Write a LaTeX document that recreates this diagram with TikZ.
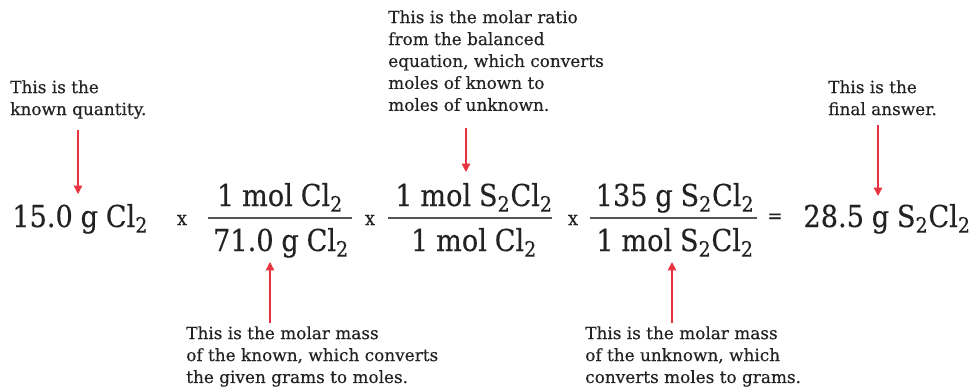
\documentclass[tikz,border=0pt]{standalone}
\usepackage{fontspec}
\setmainfont{DejaVu Serif}
\newfontfamily\eqfont[WordSpace=0.9,FakeBold=0.3]{DejaVu Serif Condensed}
\newfontfamily\notefont[FakeBold=0.4]{DejaVu Serif}
\usetikzlibrary{arrows.meta}
\definecolor{ink}{HTML}{222222}
\definecolor{barc}{HTML}{555555}
\definecolor{arrred}{HTML}{E8323F}
\newcommand\sbt[1]{\textsubscript{#1}}
\begin{document}
\begin{tikzpicture}[x=0.025cm,y=-0.025cm,
  note/.style={align=left, font=\notefont\fontsize{12}{15.6}\selectfont, text=ink, inner sep=0, anchor=north west},
  eq/.style={font=\eqfont\fontsize{21.5}{26}\selectfont, text=ink, inner sep=0},
  times/.style={font=\eqfont\fontsize{14}{15}\selectfont, text=ink, inner sep=0},
  arr/.style={draw=arrred, line width=0.9pt, -{Triangle[length=6pt,width=6pt]}},
  bar/.style={draw=barc, line width=1.3pt}]
\useasboundingbox (0,0) rectangle (974,391);
% equation
\node[eq,anchor=base west] (given) at (12,227) {15.0 g Cl\sbt{2}};
\node[times] (x1) at (182,220) {x};
\node[eq,anchor=base] (n1) at (280,206) {1 mol Cl\sbt{2}};
\node[eq,anchor=base] (d1) at (281,251) {71.0 g Cl\sbt{2}};
\coordinate (b1l) at (208,218); \coordinate (b1r) at (352,218);
\draw[bar] (b1l) -- (b1r);
\node[times] (x2) at (370,220) {x};
\node[eq,anchor=base] (n2) at (474,206) {1 mol S\sbt{2}Cl\sbt{2}};
\node[eq,anchor=base] (d2) at (474,251) {1 mol Cl\sbt{2}};
\coordinate (b2l) at (388,218); \coordinate (b2r) at (552,218);
\draw[bar] (b2l) -- (b2r);
\node[times] (x3) at (573,220) {x};
\node[eq,anchor=base] (n3) at (675,206) {135 g S\sbt{2}Cl\sbt{2}};
\node[eq,anchor=base] (d3) at (675,251) {1 mol S\sbt{2}Cl\sbt{2}};
\coordinate (b3l) at (590,218); \coordinate (b3r) at (757,218);
\draw[bar] (b3l) -- (b3r);
\node[times] (eqs) at (775,218) {=};
\node[eq,anchor=base east] (ans) at (971,227) {28.5 g S\sbt{2}Cl\sbt{2}};
% notes
\node[note] (nKnown) at (10,80) {This is the\\known quantity.};
\node[note] (nRatio) at (388,10) {This is the molar ratio\\from the balanced\\equation, which converts\\moles of known to\\moles of unknown.};
\node[note] (nFinal) at (828,80) {This is the\\final answer.};
\node[note] (nMassK) at (186,326) {This is the molar mass\\of the known, which converts\\the given grams to moles.};
\node[note] (nMassU) at (585,326) {This is the molar mass\\of the unknown, which\\converts moles to grams.};
% arrows
\coordinate (a1s) at (78,130); \coordinate (a1e) at (78,194);
\coordinate (a2s) at (466,128); \coordinate (a2e) at (466,172);
\coordinate (a3s) at (878,125); \coordinate (a3e) at (878,196);
\coordinate (a4s) at (270,323); \coordinate (a4e) at (270,262);
\coordinate (a5s) at (672,323); \coordinate (a5e) at (672,262);
\draw[arr] (a1s) -- (a1e);
\draw[arr] (a2s) -- (a2e);
\draw[arr] (a3s) -- (a3e);
\draw[arr] (a4s) -- (a4e);
\draw[arr] (a5s) -- (a5e);
\end{tikzpicture}
\end{document}
